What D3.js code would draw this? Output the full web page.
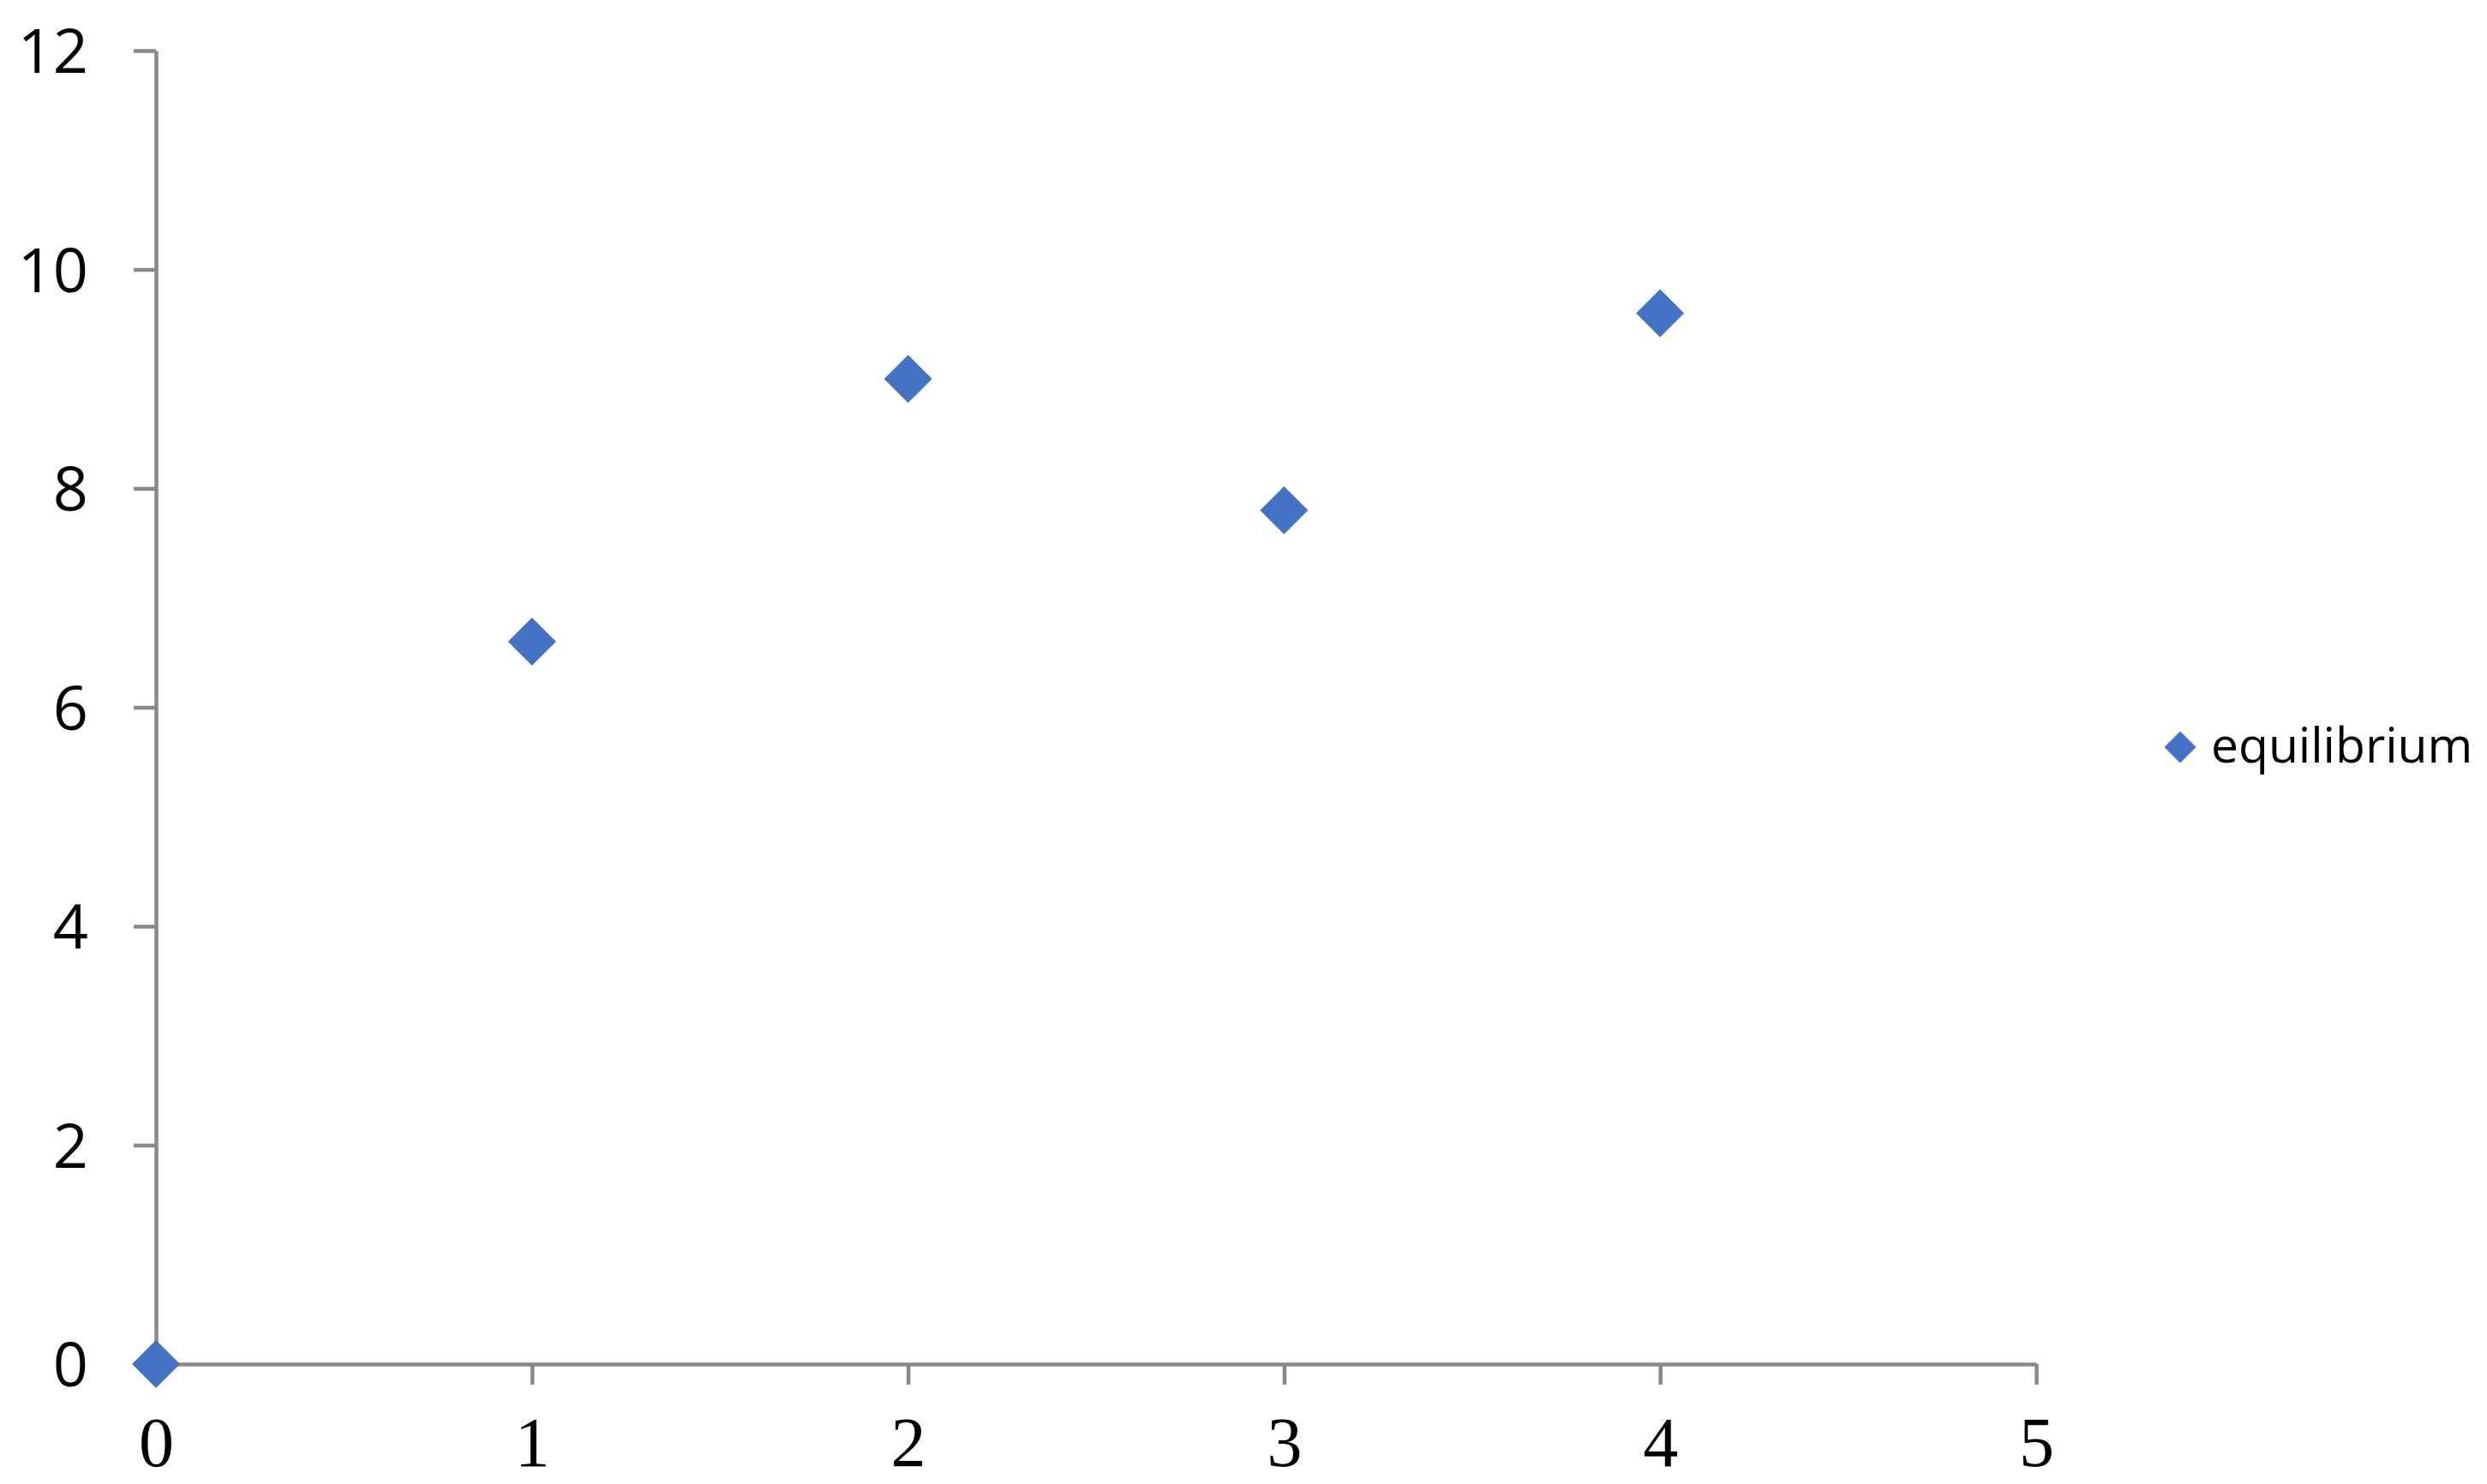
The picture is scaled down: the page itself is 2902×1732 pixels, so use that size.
<!DOCTYPE html>
<html>
<head>
<meta charset="utf-8">
<script src="https://cdn.jsdelivr.net/npm/d3@7"></script>
<style>
  html, body { margin: 0; padding: 0; background: #fff; }
  svg { display: block; }
</style>
</head>
<body>
<svg id="chart" width="2902" height="1732"></svg>
<script>
const xValues = [0, 1, 2, 3, 4];
const yValues = [0, 6.6, 9, 7.8, 9.6];
const xTicks = [0, 1, 2, 3, 4, 5];
const yTicks = [0, 2, 4, 6, 8, 10, 12];
const seriesName = "equilibrium";

const svg = d3.select("#chart");
const axisColor = "#898989";
const markColor = "#4472C4";

const x = d3.scaleLinear().domain([0, 5]).range([182, 2376]);
const y = d3.scaleLinear().domain([0, 12]).range([1592, 59]);

// Y axis
const gy = svg.append("g")
  .attr("transform", `translate(${x(0)},0)`)
  .call(d3.axisLeft(y).tickValues(yTicks).tickSize(26).tickSizeOuter(0).tickPadding(53).tickFormat(d3.format("d")));
gy.select(".domain").attr("stroke", axisColor).attr("stroke-width", 4.5);
gy.selectAll(".tick line").attr("stroke", axisColor).attr("stroke-width", 4.5);
gy.selectAll(".tick text")
  .attr("fill", "#000")
  .attr("font-family", "'Open Sans', sans-serif")
  .attr("font-size", 72)
  .attr("dy", "0.36em");

// X axis
const gx = svg.append("g")
  .attr("transform", `translate(0,${y(0)})`)
  .call(d3.axisBottom(x).tickValues(xTicks).tickSize(24).tickSizeOuter(0).tickPadding(37).tickFormat(d3.format("d")));
gx.select(".domain").attr("stroke", axisColor).attr("stroke-width", 4.5);
gx.selectAll(".tick line").attr("stroke", axisColor).attr("stroke-width", 4.5);
gx.selectAll(".tick text")
  .attr("fill", "#000")
  .attr("font-family", "'Liberation Serif', 'DejaVu Serif', serif")
  .attr("font-size", 82);

// Points
const diamond = (r) => `M0,${-r}L${r},0L0,${r}L${-r},0Z`;
const pts = xValues.map((v, i) => ({ x: v, y: yValues[i] }));
svg.append("g").selectAll("path")
  .data(pts)
  .enter().append("path")
  .attr("d", diamond(27.5))
  .attr("transform", d => `translate(${x(d.x)},${y(d.y)})`)
  .attr("fill", markColor)
  .attr("stroke", markColor)
  .attr("stroke-width", 1)
  .attr("stroke-linejoin", "round");

// Legend
const lg = svg.append("g").attr("transform", "translate(2544,872)");
lg.append("path").attr("d", diamond(18.5)).attr("fill", markColor);
lg.append("text")
  .attr("x", 36)
  .attr("y", 18)
  .attr("font-family", "'Open Sans', sans-serif")
  .attr("font-size", 57)
  .attr("fill", "#000")
  .text(seriesName);
</script>
</body>
</html>
